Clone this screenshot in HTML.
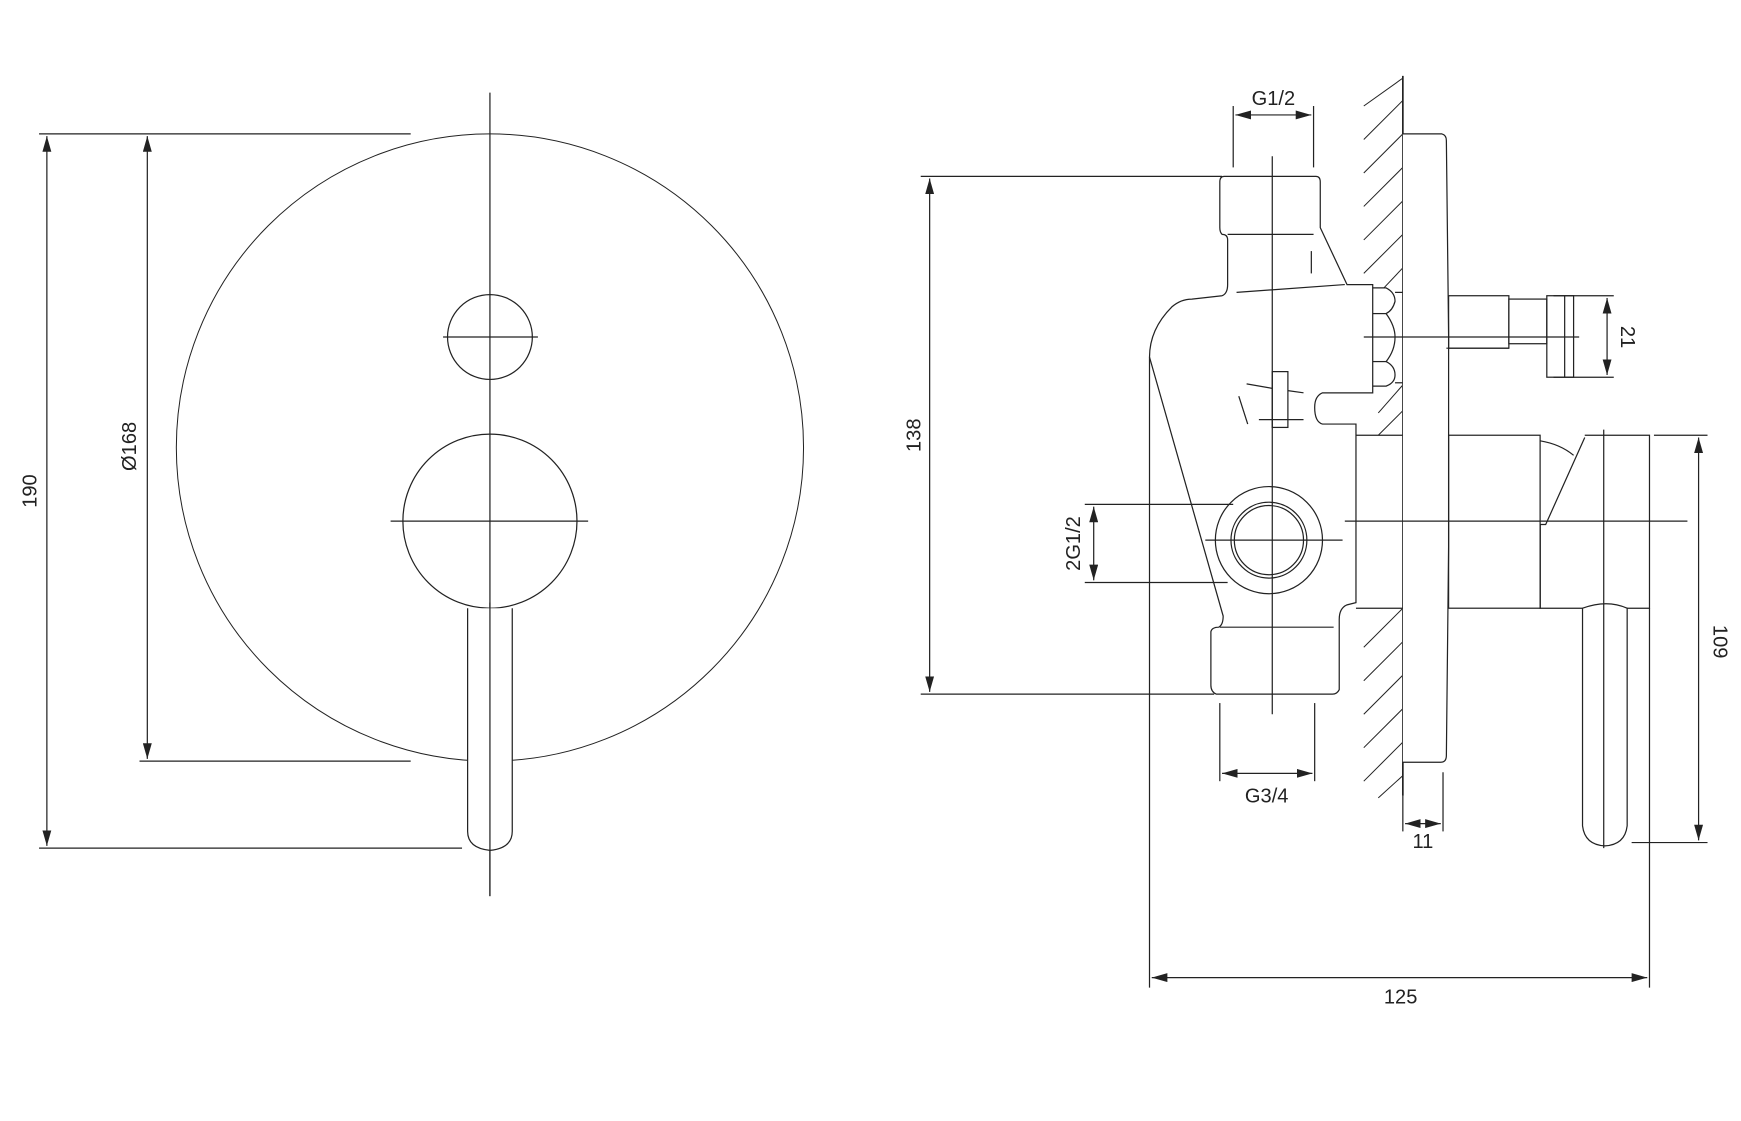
<!DOCTYPE html>
<html><head><meta charset="utf-8"><style>
html,body{margin:0;padding:0;background:#fff;}
svg{display:block;}
text{font-family:"Liberation Sans","DejaVu Sans",sans-serif;font-size:18px;fill:#222;}
</style></head><body>
<svg width="1741" height="1121" viewBox="0 0 1560 1004.5" preserveAspectRatio="none" xmlns="http://www.w3.org/2000/svg">
<defs>
<marker id="a" viewBox="0 0 14 8" refX="14" refY="4" markerWidth="14" markerHeight="8" markerUnits="userSpaceOnUse" orient="auto-start-reverse"><path d="M0,0L14,4L0,8z" fill="#222"/></marker>
</defs>
<g fill="none" stroke="#222" stroke-width="1.1">
<!-- LEFT VIEW -->
<line x1="439" y1="83" x2="439" y2="803"/>
<circle cx="439" cy="401" r="281" stroke-width="0.9"/>
<circle cx="439" cy="302" r="38"/>
<line x1="397" y1="302" x2="482" y2="302"/>
<circle cx="439" cy="467" r="78"/>
<line x1="350" y1="467" x2="527" y2="467"/>
<path d="M419,545 L419,745 Q419,760 439,762 Q459,760 459,745 L459,545" fill="#fff"/>
<line x1="439" y1="540" x2="439" y2="803"/>
<!-- 190 -->
<line x1="35" y1="120" x2="368" y2="120"/>
<line x1="35" y1="760" x2="414" y2="760"/>
<line x1="42" y1="122" x2="42" y2="758" marker-start="url(#a)" marker-end="url(#a)"/>
<!-- 168 -->
<line x1="125" y1="682" x2="368" y2="682"/>
<line x1="132" y1="122" x2="132" y2="680" marker-start="url(#a)" marker-end="url(#a)"/>

<!-- RIGHT VIEW hatch -->
<g stroke-width="0.9">
<line x1="1222" y1="95" x2="1257" y2="70"/>
<line x1="1222" y1="125" x2="1257" y2="90"/>
<line x1="1222" y1="155" x2="1257" y2="120"/>
<line x1="1222" y1="185" x2="1257" y2="150"/>
<line x1="1222" y1="215" x2="1257" y2="180"/>
<line x1="1222" y1="245" x2="1257" y2="210"/>
<line x1="1240" y1="258" x2="1257" y2="240"/>
<line x1="1235" y1="370" x2="1257" y2="345"/>
<line x1="1235" y1="390" x2="1257" y2="368"/>
<line x1="1222" y1="580" x2="1257" y2="545"/>
<line x1="1222" y1="610" x2="1257" y2="575"/>
<line x1="1222" y1="640" x2="1257" y2="605"/>
<line x1="1222" y1="670" x2="1257" y2="635"/>
<line x1="1222" y1="700" x2="1257" y2="665"/>
<line x1="1235" y1="715" x2="1257" y2="695"/>
</g>
<line x1="1257" y1="68" x2="1257" y2="713" stroke-width="1.5"/>
<!-- cover plate -->
<path d="M1257,120 L1292,120 Q1296,121 1296,126 L1298,300 L1298,490 L1296,677 Q1296,683 1291,683 L1257,683" fill="#fff"/>
<!-- body -->
<path d="M1097,158 L1179,158 Q1183,158 1183,163 L1183,204 L1207,255 L1230,255 L1230,352 L1185,352 Q1178,355 1178,365 Q1178,378 1185,380 L1215,380 L1215,540 L1207,542 Q1200,545 1200,555 L1200,618 Q1198,622 1194,622 L1090,622 Q1085,620 1085,614 L1085,566 Q1086,562 1092,562 Q1096,560 1096,552 L1030,320 Q1030,295 1050,275 Q1058,268 1068,268 L1095,265 Q1100,263 1100,255 L1100,215 Q1100,210 1095,210 Q1093,208 1093,204 L1093,163 Q1093,158 1097,158 Z"/>
<line x1="1100" y1="210" x2="1177" y2="210"/>
<line x1="1108" y1="262" x2="1205" y2="255"/>
<line x1="1175" y1="225" x2="1175" y2="245"/>
<line x1="1093" y1="562" x2="1195" y2="562"/>
<!-- hex nut -->
<path d="M1230,258 L1242,258 Q1250,262 1250,270 Q1248,278 1242,281 Q1250,292 1250,302 Q1250,314 1242,324 Q1250,328 1250,336 Q1250,343 1242,346 L1230,346"/>
<line x1="1230" y1="281" x2="1242" y2="281"/>
<line x1="1230" y1="324" x2="1242" y2="324"/>
<line x1="1250" y1="262" x2="1257" y2="262"/>
<line x1="1250" y1="343" x2="1257" y2="343"/>
<!-- diverter bits -->
<rect x="1140" y="333" width="14" height="50"/>
<line x1="1117" y1="344" x2="1140" y2="348"/>
<line x1="1154" y1="350" x2="1168" y2="352"/>
<line x1="1110" y1="355" x2="1118" y2="380"/>
<line x1="1128" y1="376" x2="1168" y2="376"/>
<!-- port -->
<circle cx="1137" cy="484" r="48"/>
<circle cx="1137" cy="484" r="34"/>
<circle cx="1137" cy="484" r="31"/>
<line x1="1080" y1="484" x2="1203" y2="484"/>
<!-- body behind plate -->
<line x1="1215" y1="390" x2="1257" y2="390"/>
<line x1="1215" y1="545" x2="1257" y2="545"/>
<!-- upper stem -->
<rect x="1298" y="265" width="54" height="47"/>
<rect x="1352" y="268" width="34" height="40"/>
<rect x="1386" y="265" width="24" height="73"/>
<line x1="1296" y1="312" x2="1352" y2="312"/>
<line x1="1402" y1="265" x2="1402" y2="338"/>
<line x1="1222" y1="302" x2="1415" y2="302"/>
<!-- lower stem -->
<rect x="1298" y="390" width="82" height="155"/>
<path d="M1380,395 Q1398,398 1410,408"/>
<path d="M1420,390 L1478,390 L1478,545 L1380,545 L1380,470 L1385,470 L1420,392"/>
<line x1="1380" y1="470" x2="1380" y2="545"/>
<path d="M1418,545 L1418,740 Q1420,757 1438,758 Q1456,757 1458,740 L1458,545 Q1440,537 1418,545" fill="#fff"/>
<line x1="1437" y1="385" x2="1437" y2="760"/>
<line x1="1205" y1="467" x2="1512" y2="467"/>
<line x1="1140" y1="140" x2="1140" y2="640"/>
<!-- dims -->
<line x1="1105" y1="95" x2="1105" y2="150"/>
<line x1="1177" y1="95" x2="1177" y2="150"/>
<line x1="1107" y1="103" x2="1175" y2="103" marker-start="url(#a)" marker-end="url(#a)"/>
<line x1="825" y1="158" x2="1095" y2="158"/>
<line x1="825" y1="622" x2="1088" y2="622"/>
<line x1="833" y1="160" x2="833" y2="620" marker-start="url(#a)" marker-end="url(#a)"/>
<line x1="972" y1="452" x2="1105" y2="452"/>
<line x1="972" y1="522" x2="1100" y2="522"/>
<line x1="980" y1="454" x2="980" y2="520" marker-start="url(#a)" marker-end="url(#a)"/>
<line x1="1093" y1="630" x2="1093" y2="700"/>
<line x1="1178" y1="630" x2="1178" y2="700"/>
<line x1="1095" y1="693" x2="1176" y2="693" marker-start="url(#a)" marker-end="url(#a)"/>
<line x1="1293" y1="692" x2="1293" y2="745"/>
<line x1="1257" y1="713" x2="1257" y2="745"/>
<line x1="1259" y1="738" x2="1291" y2="738" marker-start="url(#a)" marker-end="url(#a)"/>
<line x1="1392" y1="265" x2="1446" y2="265"/>
<line x1="1392" y1="338" x2="1446" y2="338"/>
<line x1="1440" y1="267" x2="1440" y2="336" marker-start="url(#a)" marker-end="url(#a)"/>
<line x1="1482" y1="390" x2="1530" y2="390"/>
<line x1="1462" y1="755" x2="1530" y2="755"/>
<line x1="1522" y1="392" x2="1522" y2="753" marker-start="url(#a)" marker-end="url(#a)"/>
<line x1="1030" y1="320" x2="1030" y2="885"/>
<line x1="1478" y1="545" x2="1478" y2="885"/>
<line x1="1032" y1="876" x2="1476" y2="876" marker-start="url(#a)" marker-end="url(#a)"/>
</g>
<text x="28" y="440" text-anchor="middle" transform="rotate(-90 28 440)" dominant-baseline="middle">190</text>
<text x="117" y="400" text-anchor="middle" transform="rotate(-90 117 400)" dominant-baseline="middle">Ø168</text>
<text x="820" y="390" text-anchor="middle" transform="rotate(-90 820 390)" dominant-baseline="middle">138</text>
<text x="963" y="487" text-anchor="middle" transform="rotate(-90 963 487)" dominant-baseline="middle">2G1/2</text>
<text x="1457" y="302" text-anchor="middle" transform="rotate(90 1457 302)" dominant-baseline="middle">21</text>
<text x="1540" y="575" text-anchor="middle" transform="rotate(90 1540 575)" dominant-baseline="middle">109</text>
<text x="1141" y="94" text-anchor="middle">G1/2</text>
<text x="1135" y="719" text-anchor="middle">G3/4</text>
<text x="1275" y="760" text-anchor="middle">11</text>
<text x="1255" y="899" text-anchor="middle">125</text>
</svg>
</body></html>
